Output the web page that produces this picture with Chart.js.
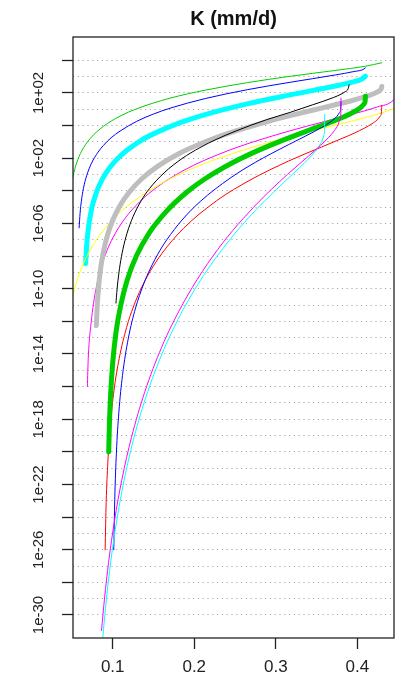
<!DOCTYPE html>
<html>
<head>
<meta charset="utf-8">
<title>K (mm/d)</title>
<script src="https://cdn.jsdelivr.net/npm/chart.js@4.4.1/dist/chart.umd.min.js"></script>
<style>
  html, body { margin: 0; padding: 0; background: #fff; }
</style>
</head>
<body>
<canvas id="myChart" width="405" height="684"></canvas>
<script>
// soil classes, in the order they are drawn
const soilNames = ['sand', 'loamy sand', 'sandy loam', 'silt loam', 'silt', 'loam',
  'sandy clay loam', 'silty clay loam', 'clay loam', 'sandy clay', 'silty clay', 'clay'];

// water content (theta) and K (mm/d)
const sandTheta = [0.0500, 0.0513, 0.0525, 0.0558, 0.0619, 0.0721, 0.0885, 0.109, 0.1294, 0.1703, 0.2134, 0.265, 0.3176, 0.3729, 0.410, 0.430];
const sandK = [3.1e-4, 7.2e-4, 1.38e-3, 5.2e-3, 0.0275, 0.155, 0.89, 3.8, 10.7, 48, 148, 427, 1050, 2400, 4350, 7130];

const loamySandTheta = [0.0588, 0.0600, 0.0615, 0.0640, 0.0680, 0.0740, 0.0820, 0.0885, 0.0980, 0.109, 0.1294, 0.150, 0.1703, 0.2134, 0.265, 0.3176, 0.373, 0.395, 0.4095, 0.410];
const loamySandK = [5.4e-7, 4.3e-6, 2.2e-5, 1.35e-4, 8.3e-4, 4.9e-3, 0.0234, 0.060, 0.178, 0.457, 1.82, 5.1, 11.6, 45.3, 158, 451, 1270, 2020, 3260, 3500];

const sandyLoamTheta = [0.0668, 0.0680, 0.0695, 0.0715, 0.0745, 0.0785, 0.0840, 0.0920, 0.1030, 0.117, 0.135, 0.150, 0.1826, 0.2134, 0.265, 0.3176, 0.373, 0.395, 0.405, 0.410];
const sandyLoamK = [3.5e-9, 3.9e-8, 2.7e-7, 1.5e-6, 9.3e-6, 4.9e-5, 2.45e-4, 1.32e-3, 6.6e-3, 0.0295, 0.126, 0.31, 1.5, 4.7, 21.4, 76, 267, 476, 685, 1061];

const siltLoamTheta = [0.0689, 0.0700, 0.0715, 0.0735, 0.0765, 0.0800, 0.0861, 0.0930, 0.1004, 0.115, 0.1331, 0.155, 0.1862, 0.211, 0.245, 0.2749, 0.3176, 0.360, 0.3993, 0.425, 0.444, 0.450];
const siltLoamK = [1e-16, 5.4e-15, 8.5e-14, 7.9e-13, 1.29e-11, 1.32e-10, 2.24e-9, 2.19e-8, 1.38e-7, 2.04e-6, 2.14e-5, 1.78e-4, 1.7e-3, 6.9e-3, 0.0339, 0.110, 0.479, 1.78, 5.9, 14.1, 35.4, 108];

const siltTheta = [0.048, 0.0513, 0.058, 0.0655, 0.0745, 0.0845, 0.0965, 0.109, 0.125, 0.1412, 0.158, 0.175, 0.195, 0.2275, 0.268, 0.300, 0.330, 0.358, 0.393, 0.420, 0.444, 0.452];
const siltK = [8.3e-12, 4.4e-11, 5.9e-10, 5.0e-9, 3.6e-8, 2.04e-7, 1.12e-6, 4.8e-6, 2.19e-5, 7.9e-5, 2.54e-4, 7.1e-4, 2.04e-3, 8.9e-3, 0.0417, 0.121, 0.304, 0.687, 1.88, 4.27, 10.45, 15.9];

const loamTheta = [0.0799, 0.0810, 0.0825, 0.0850, 0.0885, 0.0935, 0.1000, 0.1085, 0.120, 0.135, 0.155, 0.1826, 0.213, 0.250, 0.289, 0.3176, 0.345, 0.373, 0.395, 0.410, 0.420, 0.427, 0.4295, 0.430];
const loamK = [5.5e-13, 8.7e-12, 1.02e-10, 1.51e-9, 1.74e-8, 1.86e-7, 1.58e-6, 1.15e-5, 7.9e-5, 5.1e-4, 3.16e-3, 0.0209, 0.0992, 0.455, 1.70, 4.04, 8.72, 19.0, 35.9, 59, 89, 136, 186, 250];

const sandyClayLoamTheta = [0.1040, 0.1050, 0.1065, 0.1090, 0.1125, 0.1175, 0.1249, 0.135, 0.145, 0.163, 0.185, 0.207, 0.228, 0.250, 0.289, 0.3176, 0.345, 0.3706, 0.380, 0.385, 0.3885, 0.390];
const sandyClayLoamK = [1.32e-11, 5.8e-11, 3.3e-10, 2.9e-9, 2.6e-8, 2.45e-7, 2.57e-6, 2.51e-5, 1.35e-4, 1.26e-3, 9.5e-3, 0.0447, 0.150, 0.443, 2.33, 6.44, 18.6, 52, 84, 118, 171, 314];

const siltyClayLoamTheta = [0.0907, 0.0920, 0.0940, 0.0970, 0.1015, 0.108, 0.117, 0.1253, 0.135, 0.1457, 0.160, 0.1866, 0.2276, 0.2685, 0.3154, 0.3564, 0.379, 0.397, 0.4197, 0.425, 0.428, 0.4295, 0.430];
const siltyClayLoamK = [1e-26, 8.1e-24, 2.19e-21, 3.9e-19, 5.4e-17, 5.4e-15, 4.2e-13, 7.6e-12, 1.07e-10, 1.12e-9, 1.38e-8, 4.9e-7, 2.51e-5, 4.57e-4, 6.6e-3, 0.049, 0.146, 0.358, 1.47, 2.43, 3.8, 5.94, 16.8];

const clayLoamTheta = [0.0951, 0.0960, 0.0975, 0.1000, 0.1040, 0.1097, 0.1178, 0.1290, 0.1450, 0.165, 0.190, 0.2115, 0.248, 0.280, 0.3176, 0.345, 0.3706, 0.391, 0.400, 0.405, 0.408, 0.4095, 0.410];
const clayLoamK = [1e-20, 5.5e-19, 3.7e-17, 2.8e-15, 2.09e-13, 9.1e-12, 3.4e-10, 1e-8, 2.75e-7, 5.0e-6, 7.6e-5, 4.8e-4, 5.65e-3, 0.0324, 0.190, 0.622, 1.89, 5.19, 9.17, 14.0, 20.6, 29.9, 62.4];

const sandyClayTheta = [0.1013, 0.1025, 0.1045, 0.1075, 0.112, 0.119, 0.128, 0.1376, 0.1457, 0.158, 0.1662, 0.185, 0.2072, 0.244, 0.2749, 0.3154, 0.336, 0.356, 0.368, 0.375, 0.378, 0.3795, 0.380];
const sandyClayK = [1e-26, 1.15e-23, 8.3e-21, 2.5e-18, 4.9e-16, 8.3e-14, 6.5e-12, 1.74e-10, 1.55e-9, 2.24e-8, 9.8e-8, 1.62e-6, 2.19e-5, 6.0e-4, 5.56e-3, 0.0667, 0.221, 0.752, 1.82, 3.69, 6.05, 9.7, 28.8];

const siltyClayTheta = [0.0875, 0.0900, 0.0945, 0.1010, 0.1100, 0.1220, 0.1380, 0.1580, 0.1800, 0.2050, 0.2300, 0.2550, 0.2800, 0.3000, 0.3150, 0.3300, 0.3400, 0.3480, 0.3540, 0.3575, 0.3590, 0.3598, 0.3600];
const siltyClayK = [2.5e-32, 6.5e-31, 9.8e-29, 3.2e-26, 1.78e-23, 1.15e-20, 8.7e-18, 5.1e-15, 1.29e-12, 2.04e-10, 1.35e-8, 4.9e-7, 1.15e-5, 1.12e-4, 5.7e-4, 2.9e-3, 9.0e-3, 0.0249, 0.0643, 0.144, 0.259, 0.511, 4.8];

const clayTheta = [0.0863, 0.0900, 0.0950, 0.1020, 0.1110, 0.1230, 0.1390, 0.1600, 0.1850, 0.2100, 0.2350, 0.2600, 0.2850, 0.3050, 0.3236, 0.3400, 0.3550, 0.3650, 0.3720, 0.3765, 0.3790, 0.3798, 0.3800];
const clayK = [1.12e-31, 1.1e-29, 1.74e-27, 5.2e-25, 1.74e-22, 7.6e-20, 4.2e-17, 2.57e-14, 9.5e-12, 1.15e-9, 6.5e-8, 2.0e-6, 4.2e-5, 3.8e-4, 2.58e-3, 0.0133, 0.0621, 0.191, 0.497, 1.17, 2.67, 5.25, 48];

// axis ticks
const xTicks = [0.1, 0.2, 0.3, 0.4];
const xTickLabels = ['0.1', '0.2', '0.3', '0.4'];
const yTickExp = [2, -2, -6, -10, -14, -18, -22, -26, -30];
const yTickLabels = ['1e+02', '1e-02', '1e-06', '1e-10', '1e-14', '1e-18', '1e-22', '1e-26', '1e-30'];

// line look
const lineColors = ['#00CD00', '#0000FF', '#00FFFF', '#FF00FF', '#FFFF00', '#BEBEBE',
  '#000000', '#FF0000', '#00CD00', '#0000FF', '#00FFFF', '#FF00FF'];
const lineWidths = [1, 1, 5, 1, 1, 5, 1, 1, 5, 1, 1, 1];

const thetas = [sandTheta, loamySandTheta, sandyLoamTheta, siltLoamTheta, siltTheta, loamTheta,
  sandyClayLoamTheta, siltyClayLoamTheta, clayLoamTheta, sandyClayTheta, siltyClayTheta, clayTheta];
const ks = [sandK, loamySandK, sandyLoamK, siltLoamK, siltK, loamK,
  sandyClayLoamK, siltyClayLoamK, clayLoamK, sandyClayK, siltyClayK, clayK];

const datasets = soilNames.map((name, i) => ({
  label: name,
  data: thetas[i].map((t, j) => ({ x: t, y: ks[i][j] })),
  borderColor: lineColors[i],
  borderWidth: lineWidths[i],
  borderCapStyle: 'round',
  borderJoinStyle: 'round',
  pointRadius: 0,
  fill: false,
  cubicInterpolationMode: 'monotone',
  order: soilNames.length - i
}));

// every decade gets a dotted grid line
const yGridExp = [];
for (let e = 4; e >= -30; e--) yGridExp.push(e);

const font = '"Liberation Sans", Arial, Helvetica, sans-serif';

// box round the plot and the title over it
const frame = {
  id: 'frame',
  afterDraw(chart) {
    const { ctx, chartArea: a } = chart;
    ctx.save();
    ctx.strokeStyle = '#222';
    ctx.lineWidth = 1.3;
    ctx.strokeRect(a.left, a.top, a.right - a.left, a.bottom - a.top);
    ctx.fillStyle = '#111';
    ctx.font = 'bold 20px ' + font;
    ctx.textAlign = 'center';
    ctx.textBaseline = 'middle';
    ctx.fillText('K (mm/d)', (a.left + a.right) / 2, 19);
    ctx.restore();
  }
};

const ctx = document.getElementById('myChart');

new Chart(ctx, {
  type: 'line',
  data: { datasets },
  plugins: [frame],
  options: {
    responsive: false,
    animation: false,
    devicePixelRatio: 1,
    layout: { padding: { top: 37, right: 11, left: 0, bottom: 0 } },
    plugins: { legend: { display: false }, tooltip: { enabled: false } },
    scales: {
      x: {
        type: 'linear',
        min: 0.0513,
        max: 0.445,
        afterBuildTicks: s => { s.ticks = xTicks.map(v => ({ value: v })); },
        afterFit: s => { s.height = 46; },
        ticks: {
          autoSkip: false,
          maxRotation: 0,
          padding: 8,
          color: '#222',
          font: { family: font, size: 17 },
          callback: (v, i) => xTickLabels[i]
        },
        grid: { drawOnChartArea: false, tickLength: 11, tickColor: '#222', tickWidth: 1.3 },
        border: { display: false }
      },
      y: {
        type: 'logarithmic',
        min: Math.pow(10, -31.41),
        max: Math.pow(10, 5.43),
        afterBuildTicks: s => { s.ticks = yGridExp.map(e => ({ value: Math.pow(10, e) })); },
        afterFit: s => { s.width = 73; },
        ticks: {
          autoSkip: false,
          minRotation: 90,
          maxRotation: 90,
          crossAlign: 'center',
          padding: 2,
          color: '#222',
          font: { family: font, size: 15 },
          callback: v => {
            const k = yTickExp.indexOf(Math.round(Math.log10(v)));
            return k < 0 ? '' : yTickLabels[k];
          }
        },
        grid: {
          color: '#a8a8a8',
          lineWidth: 1,
          tickLength: 11,
          tickWidth: 1.3,
          tickColor: c => (Math.round(Math.log10(c.tick.value)) % 2 === 0 ? '#222' : 'rgba(0,0,0,0)')
        },
        border: { display: false, dash: [1.2, 3.6] }
      }
    }
  }
});
</script>
</body>
</html>
